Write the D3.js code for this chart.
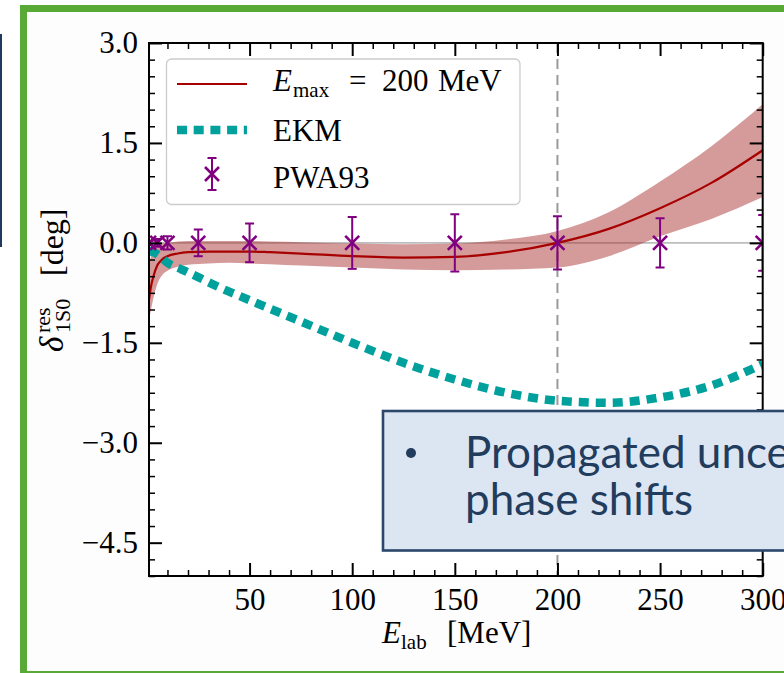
<!DOCTYPE html>
<html><head><meta charset="utf-8">
<script src="https://cdn.jsdelivr.net/npm/d3@7"></script>
<style>body{margin:0;background:#fff;overflow:hidden}svg{display:block}</style>
</head><body>
<script>
// ---- data ----
const bandE   = [1, 2, 3, 5, 7, 10, 15, 20, 30, 40, 50, 60, 75, 100, 125, 150, 175, 200, 225, 250, 275, 300];
const central = [-0.85, -0.65, -0.52, -0.34, -0.26, -0.2, -0.16, -0.14, -0.13, -0.13, -0.13, -0.14, -0.16, -0.2, -0.22, -0.21, -0.14, 0.0, 0.21, 0.52, 0.9, 1.39];
const bandLo  = [-1.16, -1.0, -0.85, -0.62, -0.5, -0.42, -0.36, -0.33, -0.31, -0.3, -0.31, -0.32, -0.34, -0.37, -0.4, -0.41, -0.4, -0.37, -0.2, 0.1, 0.36, 0.69];
const bandHi  = [-0.3, -0.2, -0.13, -0.04, -0.01, 0.0, 0.02, 0.03, 0.03, 0.03, 0.03, 0.02, 0.01, -0.01, -0.02, -0.01, 0.05, 0.18, 0.46, 0.92, 1.45, 2.08];

const ekmE = [1, 5, 10, 17, 26, 34, 50, 75, 100, 125, 150, 175, 200, 225, 250, 275, 300];
const ekmV = [-0.12, -0.17, -0.3, -0.4, -0.53, -0.65, -0.86, -1.18, -1.5, -1.8, -2.05, -2.25, -2.37, -2.4, -2.32, -2.14, -1.82];

const pwaE   = [1, 5, 10, 25, 50, 100, 150, 200, 250, 300];
const pwaV   = [0, 0, 0, 0, 0, 0, 0, 0, 0, 0];
const pwaErr = [0.03, 0.06, 0.1, 0.2, 0.29, 0.39, 0.43, 0.4, 0.37, 0.42];

const xMajor = [50, 100, 150, 200, 250, 300];
const yMajor = [-4.5, -3.0, -1.5, 0.0, 1.5, 3.0];
const legendLabels = ["EKM", "PWA93"];
const calloutLines = ["Propagated uncertainties in", "phase shifts"];

// ---- drawing ----
const W = 784, H = 673;
const SERIF = "'Liberation Serif', 'Times New Roman', serif";
const svg = d3.select("body").append("svg").attr("width", W).attr("height", H);
svg.append("rect").attr("width", W).attr("height", H).attr("fill", "#ffffff");

// edge of a neighbouring slide box
svg.append("line").attr("x1", 1).attr("x2", 1).attr("y1", 34).attr("y2", 247)
  .attr("stroke", "#1f3a5f").attr("stroke-width", 2);

// green frame
svg.append("rect").attr("x", 23.5).attr("y", 8.5).attr("width", 820).attr("height", 666)
  .attr("fill", "#fdfdfd").attr("stroke", "#58a936").attr("stroke-width", 7);

const x = d3.scaleLinear().domain([1, 300]).range([149, 762.7]);
const y = d3.scaleLinear().domain([-5, 3]).range([576, 43]);
const [X0, X1] = x.range(), [Y1, Y0] = y.range();

svg.append("defs").append("clipPath").attr("id", "plotclip")
  .append("rect").attr("x", X0).attr("y", Y0).attr("width", X1 - X0).attr("height", Y1 - Y0);

svg.append("rect").attr("x", X0).attr("y", Y0).attr("width", X1 - X0).attr("height", Y1 - Y0).attr("fill", "#ffffff");

const g = svg.append("g").attr("clip-path", "url(#plotclip)");

// reference lines
g.append("line").attr("x1", X0).attr("x2", X1).attr("y1", y(0)).attr("y2", y(0))
  .attr("stroke", "#bdbdbd").attr("stroke-width", 1.6);
g.append("line").attr("x1", x(200)).attr("x2", x(200)).attr("y1", Y0).attr("y2", Y1)
  .attr("stroke", "#9a9a9a").attr("stroke-width", 2).attr("stroke-dasharray", "10,6");

// band
const idx = d3.range(bandE.length);
g.append("path").datum(idx)
  .attr("d", d3.area().x(i => x(bandE[i])).y0(i => y(bandLo[i])).y1(i => y(bandHi[i])).curve(d3.curveMonotoneX))
  .attr("fill", "#a52a2a").attr("fill-opacity", 0.47);
g.append("path").datum(idx)
  .attr("d", d3.line().x(i => x(bandE[i])).y(i => y(central[i])).curve(d3.curveMonotoneX))
  .attr("fill", "none").attr("stroke", "#a80000").attr("stroke-width", 2.2);

// EKM
const EKM_COL = "#00a19d";
g.append("path").datum(d3.range(ekmE.length))
  .attr("d", d3.line().x(i => x(ekmE[i])).y(i => y(ekmV[i])).curve(d3.curveMonotoneX))
  .attr("fill", "none").attr("stroke", EKM_COL).attr("stroke-width", 8.5).attr("stroke-dasharray", "10,7");

// PWA93
const PUR = "#800080";
function pwaMark(sel, cx, cy, e, s) {
  sel.append("line").attr("x1", cx).attr("x2", cx).attr("y1", cy - e).attr("y2", cy + e)
    .attr("stroke", PUR).attr("stroke-width", 2);
  [cy - e, cy + e].forEach(yy => sel.append("line").attr("x1", cx - 4.5).attr("x2", cx + 4.5)
    .attr("y1", yy).attr("y2", yy).attr("stroke", PUR).attr("stroke-width", 2));
  sel.append("path").attr("d", `M${cx - s},${cy - s}L${cx + s},${cy + s}M${cx - s},${cy + s}L${cx + s},${cy - s}`)
    .attr("stroke", PUR).attr("stroke-width", 2.6).attr("fill", "none");
}
pwaE.forEach((e, i) => {
  const cy = y(pwaV[i]);
  pwaMark(g, x(e), cy, y(pwaV[i] - pwaErr[i]) - cy, 7);
});

// axes (ticks inward on all four sides)
const fmt = d3.format(".1f");
const yMinor = d3.range(-5, 3.001, 0.25).filter(v => !yMajor.some(m => Math.abs(m - v) < 1e-6));
const xMinor = d3.range(10, 300, 10).filter(v => !xMajor.includes(v));
function styleAxis(a) {
  a.select(".domain").remove();
  a.selectAll("line").attr("stroke", "#000");
  a.selectAll("text").attr("font-family", SERIF).attr("font-size", 31).attr("fill", "#000");
}
const axL = svg.append("g").attr("transform", `translate(${X0},0)`)
  .call(d3.axisLeft(y).tickValues(yMajor).tickFormat(fmt).tickSize(-13).tickPadding(11));
styleAxis(axL); axL.selectAll("line").attr("stroke-width", 2);
const axLm = svg.append("g").attr("transform", `translate(${X0},0)`)
  .call(d3.axisLeft(y).tickValues(yMinor).tickFormat("").tickSize(-6));
styleAxis(axLm); axLm.selectAll("line").attr("stroke-width", 1.5);
const axR = svg.append("g").attr("transform", `translate(${X1},0)`)
  .call(d3.axisRight(y).tickValues(yMajor).tickFormat("").tickSize(-13));
styleAxis(axR); axR.selectAll("line").attr("stroke-width", 2);
const axRm = svg.append("g").attr("transform", `translate(${X1},0)`)
  .call(d3.axisRight(y).tickValues(yMinor).tickFormat("").tickSize(-6));
styleAxis(axRm); axRm.selectAll("line").attr("stroke-width", 1.5);
const axB = svg.append("g").attr("transform", `translate(0,${Y1})`)
  .call(d3.axisBottom(x).tickValues(xMajor).tickFormat(d3.format("d")).tickSize(-13).tickPadding(12));
styleAxis(axB); axB.selectAll("line").attr("stroke-width", 2);
const axBm = svg.append("g").attr("transform", `translate(0,${Y1})`)
  .call(d3.axisBottom(x).tickValues(xMinor).tickFormat("").tickSize(-6));
styleAxis(axBm); axBm.selectAll("line").attr("stroke-width", 1.5);
const axT = svg.append("g").attr("transform", `translate(0,${Y0})`)
  .call(d3.axisTop(x).tickValues(xMajor).tickFormat("").tickSize(-13));
styleAxis(axT); axT.selectAll("line").attr("stroke-width", 2);
const axTm = svg.append("g").attr("transform", `translate(0,${Y0})`)
  .call(d3.axisTop(x).tickValues(xMinor).tickFormat("").tickSize(-6));
styleAxis(axTm); axTm.selectAll("line").attr("stroke-width", 1.5);

svg.append("rect").attr("x", X0).attr("y", Y0).attr("width", X1 - X0).attr("height", Y1 - Y0)
  .attr("fill", "none").attr("stroke", "#000").attr("stroke-width", 2);

// x label: E_lab [MeV]
const xl = svg.append("g").attr("font-family", SERIF).attr("fill", "#000");
xl.append("text").attr("x", 382).attr("y", 643).attr("font-size", 31).attr("font-style", "italic").text("E");
xl.append("text").attr("x", 401).attr("y", 649).attr("font-size", 21).text("lab");
xl.append("text").attr("x", 447).attr("y", 643).attr("font-size", 31).text("[MeV]");

// y label: δ^res_1S0 [deg]
const yl = svg.append("g").attr("transform", "translate(63,352) rotate(-90)")
  .attr("font-family", SERIF).attr("fill", "#000");
yl.append("text").attr("x", 0).attr("y", 0).attr("font-size", 33).attr("font-style", "italic").text("δ");
yl.append("text").attr("x", 19).attr("y", -13).attr("font-size", 22).text("res");
yl.append("text").attr("x", 19).attr("y", 7).attr("font-size", 22).text("1S0");
yl.append("text").attr("x", 76).attr("y", 0).attr("font-size", 32).text("[deg]");

// legend
const lg = svg.append("g");
lg.append("rect").attr("x", 166.5).attr("y", 59).attr("width", 353.5).attr("height", 145.5).attr("rx", 5)
  .attr("fill", "#ffffff").attr("fill-opacity", 0.85).attr("stroke", "#cccccc").attr("stroke-width", 1.3);
lg.append("line").attr("x1", 177).attr("x2", 247).attr("y1", 84).attr("y2", 84)
  .attr("stroke", "#a80000").attr("stroke-width", 2.2);
lg.append("line").attr("x1", 177).attr("x2", 247).attr("y1", 130).attr("y2", 130)
  .attr("stroke", EKM_COL).attr("stroke-width", 8.5).attr("stroke-dasharray", "10,6.7");
pwaMark(lg, 212, 174, 16, 7);
const lt = lg.append("g").attr("font-family", SERIF).attr("font-size", 31).attr("fill", "#000");
lt.append("text").attr("x", 273).attr("y", 91).attr("font-style", "italic").text("E");
lt.append("text").attr("x", 293).attr("y", 97).attr("font-size", 21).text("max");
lt.append("text").attr("x", 349).attr("y", 91).text("=");
lt.append("text").attr("x", 382).attr("y", 91).text("200");
lt.append("text").attr("x", 438).attr("y", 91).text("MeV");
lt.append("text").attr("x", 273).attr("y", 141).text(legendLabels[0]);
lt.append("text").attr("x", 273).attr("y", 188).text(legendLabels[1]);

// callout box
const cb = svg.append("g");
cb.append("rect").attr("x", 383).attr("y", 411).attr("width", 460).attr("height", 139.5)
  .attr("fill", "#dce6f2").attr("stroke", "#2b476a").attr("stroke-width", 2.6);
cb.append("circle").attr("cx", 411).attr("cy", 453).attr("r", 5).attr("fill", "#223c5e");
cb.selectAll("text.c").data(calloutLines).join("text").attr("class", "c")
  .attr("x", 465).attr("y", (d, i) => 468 + i * 47)
  .attr("font-family", "Lato, 'Open Sans', sans-serif").attr("font-size", 44).attr("fill", "#223c5e")
  .text(d => d);
</script>
</body></html>
